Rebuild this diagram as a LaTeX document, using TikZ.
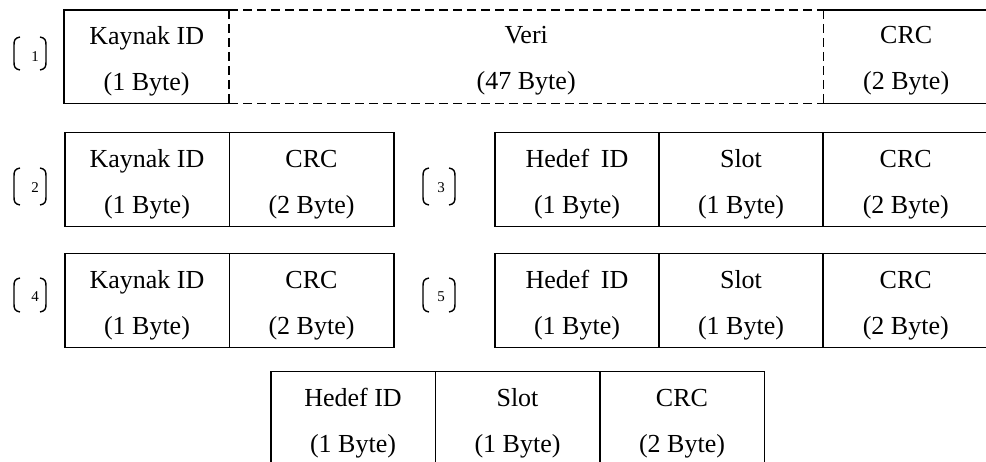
\documentclass[tikz,border=0pt]{standalone}
\usepackage{fontspec}
\setmainfont{Liberation Serif}
\newcommand\mybrk[5]{%
  % #1 left x, #2 right x, #3 top y, #4 bottom y, #5 style
  \draw[#5] (#1+6,#3) .. controls (#1+1,#3+1) and (#1,#3+3) .. (#1,#3+8) -- (#1,#4-8) .. controls (#1,#4-3) and (#1+1,#4-1) .. (#1+6,#4);
  \draw[#5] (#2-6,#3) .. controls (#2-1,#3+1) and (#2,#3+3) .. (#2,#3+8) -- (#2,#4-8) .. controls (#2,#4-3) and (#2-1,#4-1) .. (#2-6,#4);
}
\begin{document}
\begin{tikzpicture}[x=1pt,y=-1pt,
  txt/.style={inner sep=0pt,align=center,yshift=-4.5pt,font=\fontsize{26}{46}\selectfont},
  cell/.style={minimum width=164.5pt,minimum height=94pt,inner sep=0pt,anchor=north west},
  box/.style={cell,draw,line width=1.5pt},
  edge/.style={line width=1.5pt},
  dashedge/.style={line width=1.5pt,dash pattern=on 9pt off 5pt},
  brk/.style={line width=1.4pt},
  num/.style={font=\fontsize{15}{15}\selectfont,inner sep=0pt}]
\useasboundingbox (0,0) rectangle (986,462);
\clip (0,0) rectangle (986,462);

% Row 1
\node[cell,minimum width=165pt,minimum height=93pt,label={[txt]center:Kaynak ID\\(1 Byte)}] (k1) at (64,10) {};
\node[cell,minimum width=594pt,minimum height=93pt,label={[txt]center:Veri\\(47 Byte)}] (v1) at (229,10) {};
\node[cell,minimum width=168pt,minimum height=93pt,label={[txt,xshift=-1pt]center:CRC\\(2 Byte)}] (c1) at (823,10) {};
\draw[edge] (k1.north east) -- (k1.north west) -- (k1.south west) -- (k1.south east);
\draw[dashedge] (v1.north west) -- (v1.north east);
\draw[dashedge] (v1.south west) -- (v1.south east);
\draw[dashedge] (v1.north west) -- (v1.south west);
\draw[dashedge] (v1.north east) -- (v1.south east);
\draw[edge] (c1.north west) -- (c1.north east);
\draw[edge] (c1.south west) -- (c1.south east);

% Row 2
\node[box,label={[txt]center:Kaynak ID\\(1 Byte)}] (k2) at (64,132) {};
\node[box,label={[txt]center:CRC\\(2 Byte)}] (c2) at (228.5,132) {};
\node[box,label={[txt]center:Hedef\hspace{0.45em}ID\\(1 Byte)}] (h3) at (494,132) {};
\node[box,label={[txt]center:Slot\\(1 Byte)}] (s3) at (658,132) {};
\node[box,minimum width=168pt,label={[txt,xshift=-1pt]center:CRC\\(2 Byte)}] (c3) at (822,132) {};

% Row 3
\node[box,label={[txt]center:Kaynak ID\\(1 Byte)}] (k4) at (64,253) {};
\node[box,label={[txt]center:CRC\\(2 Byte)}] (c4) at (228.5,253) {};
\node[box,label={[txt]center:Hedef\hspace{0.45em}ID\\(1 Byte)}] (h5) at (494,253) {};
\node[box,label={[txt]center:Slot\\(1 Byte)}] (s5) at (658,253) {};
\node[box,minimum width=168pt,label={[txt,xshift=-1pt]center:CRC\\(2 Byte)}] (c5) at (822,253) {};

% Row 4
\node[box,label={[txt]center:Hedef ID\\(1 Byte)}] (h6) at (270,371) {};
\node[box,label={[txt]center:Slot\\(1 Byte)}] (s6) at (434.5,371) {};
\node[box,label={[txt]center:CRC\\(2 Byte)}] (c6) at (599,371) {};

% Labels
\node[num] (n1) at (35,57) {1};
\node[num] (n2) at (35,188) {2};
\node[num] (n3) at (441,188) {3};
\node[num] (n4) at (35,297) {4};
\node[num] (n5) at (441,297) {5};
\mybrk{14}{46}{37}{70}{brk}
\mybrk{14}{46}{168}{205}{brk}
\mybrk{423}{455}{168}{205}{brk}
\mybrk{14}{46}{278}{312}{brk}
\mybrk{423}{455}{278}{312}{brk}
\end{tikzpicture}
\end{document}
